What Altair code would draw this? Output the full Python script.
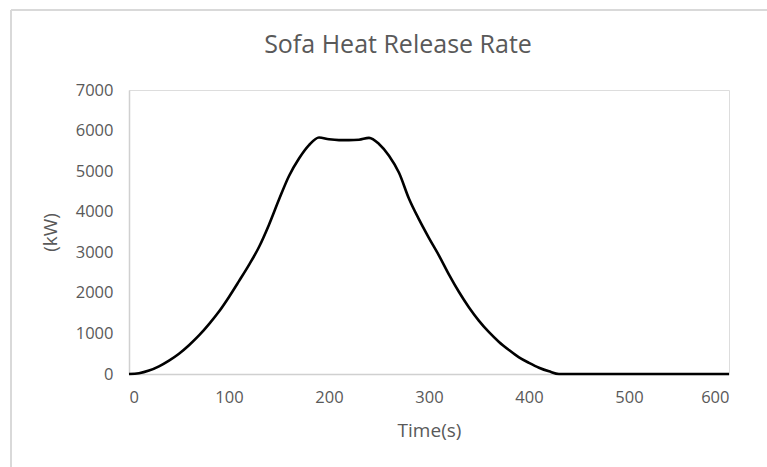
import altair as alt
import pandas as pd

time_s = [0, 10, 20, 30, 40, 50, 60, 70, 80, 90, 100, 110, 120, 130, 140, 150,
          160, 170, 180, 190, 200, 210, 220, 230, 240, 250, 260, 270, 280, 290,
          300, 310, 320, 330, 340, 350, 360, 370, 380, 390, 400, 410, 420, 430,
          450, 500, 550, 600]
hrr_kw = [0, 20, 85, 190, 330, 500, 710, 950, 1230, 1540, 1900, 2290, 2690, 3130,
          3680, 4300, 4880, 5310, 5640, 5830, 5785, 5765, 5765, 5775, 5820, 5670,
          5380, 4960, 4320, 3810, 3350, 2920, 2450, 2020, 1640, 1310, 1030, 790,
          590, 410, 275, 155, 65, 0, 0, 0, 0, 0]

df = pd.DataFrame({"t": time_s, "v": hrr_kw})

FONT = "Open Sans"
GRAY = "#595959"

line = alt.Chart(df).mark_line(color="black", strokeWidth=2.6, interpolate="monotone").encode(
    x=alt.X("t:Q", scale=alt.Scale(domain=[0, 600], nice=False),
            axis=alt.Axis(title="Time(s)", values=[0, 100, 200, 300, 400, 500, 600],
                          format="d", ticks=False, grid=False, domainColor="#d0d0d0",
                          domainWidth=1.5, labelColor=GRAY, labelFont=FONT,
                          labelFontSize=16.5, labelPadding=15,
                          titleColor=GRAY, titleFont=FONT, titleFontSize=19,
                          titleFontWeight="normal", titlePadding=16)),
    y=alt.Y("v:Q", scale=alt.Scale(domain=[0, 7000], nice=False),
            axis=alt.Axis(title="(kW)", values=list(range(0, 7001, 1000)), format="d",
                          ticks=False, grid=False, domainColor="#d0d0d0", domainWidth=1.5,
                          labelColor=GRAY, labelFont=FONT, labelFontSize=16.5,
                          labelPadding=16,
                          titleColor=GRAY, titleFont=FONT, titleFontSize=19,
                          titleFontWeight="normal", titlePadding=15)),
)

border_top = alt.Chart(df).mark_rule(color="#d9d9d9", strokeWidth=1.5).encode(
    x=alt.value(-118), x2=alt.value(700), y=alt.value(-80))
border_left = alt.Chart(df).mark_rule(color="#d9d9d9", strokeWidth=1.5).encode(
    x=alt.value(-118), y=alt.value(-80), y2=alt.value(400))

chart = (border_top + border_left + line).properties(
    width=600, height=284,
    title=alt.TitleParams("Sofa Heat Release Rate", font=FONT, fontSize=25,
                          fontWeight="normal", color=GRAY, anchor="middle", dx=-31,
                          offset=-49),
    autosize=alt.AutoSizeParams(type="none"),
    padding={"left": 129, "top": 90, "right": 38, "bottom": 93},
).configure_view(stroke=None).configure(background="white")

chart.save("out.html", embed_options={"renderer": "svg", "actions": False})
